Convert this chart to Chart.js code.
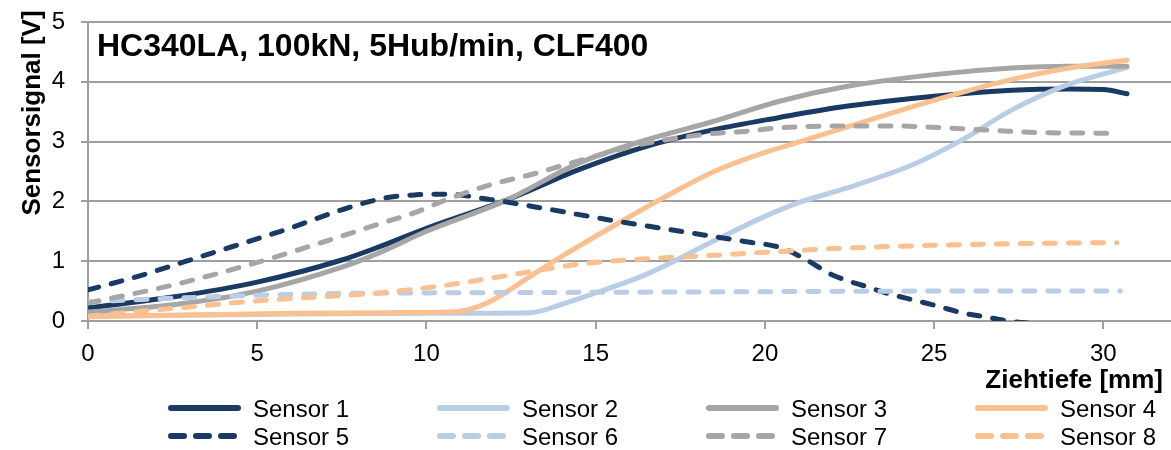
<!DOCTYPE html>
<html>
<head>
<meta charset="utf-8">
<script src="https://cdn.jsdelivr.net/npm/chart.js@4.4.1/dist/chart.umd.min.js"></script>
<style>
  html, body { margin: 0; padding: 0; background: #fff; overflow: hidden; }
  canvas { display: block; }
</style>
</head>
<body>
<canvas id="chart" width="1171" height="450"></canvas>
<script>
// Axis ticks
const depthTicks = [0, 5, 10, 15, 20, 25, 30];
const signalTicks = [0, 1, 2, 3, 4, 5];

// Series: [Ziehtiefe mm, Sensorsignal V]
const sensor1 = [[0,0.22],[2.5,0.4],[5,0.65],[7.5,1.02],[8.6,1.24],[10,1.55],[12.4,2.03],[14.5,2.53],[16.5,2.92],[18.5,3.2],[20.4,3.4],[22.4,3.59],[25,3.76],[27.3,3.86],[29,3.88],[30,3.87],[30.7,3.8]];
const sensor2 = [[0,0.08],[5,0.11],[10,0.13],[13.1,0.14],[14,0.28],[15,0.47],[16.5,0.78],[18.5,1.34],[20,1.75],[21,1.98],[22.4,2.22],[24.4,2.62],[25.8,3.02],[27.3,3.53],[28.8,3.92],[30.7,4.24]];
const sensor3 = [[0,0.15],[2.5,0.27],[5,0.5],[7.5,0.9],[8.6,1.14],[10,1.5],[12.4,2.03],[14.5,2.64],[16.5,3.03],[18.5,3.34],[20.4,3.67],[22.4,3.92],[25,4.12],[27.3,4.23],[29,4.26],[30.7,4.26]];
const sensor4 = [[0,0.07],[3,0.1],[6,0.13],[9,0.14],[10.7,0.15],[11.3,0.2],[12,0.36],[13,0.72],[14,1.08],[15.5,1.58],[17,2.06],[18.5,2.5],[20,2.82],[21,2.99],[22.4,3.24],[25,3.69],[27.3,4.04],[29.3,4.26],[30.7,4.36]];
const sensor5 = [[0,0.52],[1.5,0.75],[2.9,1.0],[4.3,1.25],[5.8,1.52],[7.5,1.86],[8.8,2.06],[9.7,2.11],[10.6,2.12],[11.9,2.03],[13.4,1.89],[15.4,1.69],[17.5,1.5],[19.4,1.33],[20.5,1.22],[21.2,1.03],[22,0.77],[23,0.575],[23.7,0.45],[24.4,0.35],[25.1,0.25],[25.8,0.14],[26.5,0.07],[27.2,0.0],[27.9,-0.04],[29,-0.08],[30.5,-0.12]];
const sensor6 = [[0,0.32],[2.5,0.38],[5,0.43],[7.5,0.46],[10,0.47],[15,0.48],[20,0.49],[25,0.5],[30.5,0.5]];
const sensor7 = [[0,0.3],[2.5,0.6],[5,0.98],[7.5,1.42],[8.8,1.66],[9.6,1.8],[10.6,2.03],[11.9,2.28],[13.1,2.45],[14.2,2.63],[15.2,2.79],[16.3,2.95],[18.2,3.12],[19.4,3.17],[20.4,3.23],[22.4,3.26],[23.9,3.26],[25.3,3.23],[26.7,3.19],[28.1,3.15],[30.4,3.14]];
const sensor8 = [[0,0.08],[2.3,0.2],[5.3,0.35],[8.6,0.47],[10.6,0.6],[12.6,0.78],[14.5,0.95],[16.5,1.04],[18.5,1.1],[21,1.18],[22.4,1.22],[25.3,1.27],[28.3,1.3],[30.4,1.31]];

const sensorNames = ['Sensor 1','Sensor 2','Sensor 3','Sensor 4','Sensor 5','Sensor 6','Sensor 7','Sensor 8'];
const sensorSeries = [sensor1, sensor2, sensor3, sensor4, sensor5, sensor6, sensor7, sensor8];

const chartTitle = 'HC340LA, 100kN, 5Hub/min, CLF400';
const xTitle = 'Ziehtiefe [mm]';
const yTitle = 'Sensorsignal [V]';

const NAVY = '#1b3a63', LIGHTBLUE = '#b9cde5', GRAY = '#a6a6a6', ORANGE = '#fac090';
const palette = [NAVY, LIGHTBLUE, GRAY, ORANGE];
const GRID = '#9f9f9f';
const FONT = "'Liberation Sans', Arial, Helvetica, sans-serif";

Chart.defaults.font.family = FONT;
Chart.defaults.color = '#000';

const datasets = sensorSeries.map((pts, i) => ({
  label: sensorNames[i],
  data: pts.map(([x, y]) => ({ x, y })),
  borderColor: palette[i % 4],
  backgroundColor: palette[i % 4],
  borderWidth: 5,
  borderDash: i >= 4 ? [11, 13] : [],
  borderCapStyle: 'round',
  borderJoinStyle: 'round',
  cubicInterpolationMode: 'monotone',
  pointRadius: 0,
  fill: false,
  order: sensorSeries.length - i
}));

// Title inside the plot, value labels, axis titles and a 4x2 legend
const annotations = {
  id: 'annotations',
  afterDraw(chart) {
    const ctx = chart.ctx;
    const area = chart.chartArea;
    const yScale = chart.scales.y;
    ctx.save();
    ctx.fillStyle = '#000';

    // value labels of the signal axis
    ctx.font = '24px ' + FONT;
    ctx.textAlign = 'right';
    ctx.textBaseline = 'middle';
    signalTicks.forEach(v => ctx.fillText(String(v), area.left - 23, yScale.getPixelForValue(v)));

    ctx.textBaseline = 'alphabetic';
    ctx.font = 'bold 32px ' + FONT;
    ctx.textAlign = 'left';
    ctx.fillText(chartTitle, area.left + 9, 56);

    ctx.font = 'bold 26px ' + FONT;
    ctx.textAlign = 'right';
    ctx.fillText(xTitle, 1163, 388);

    ctx.save();
    ctx.translate(40, 113);
    ctx.rotate(-Math.PI / 2);
    ctx.textAlign = 'center';
    ctx.fillText(yTitle, 0, 0);
    ctx.restore();

    ctx.font = '24px ' + FONT;
    ctx.textAlign = 'left';
    chart.data.datasets.forEach((ds, i) => {
      const col = i % 4, row = Math.floor(i / 4);
      const x0 = 168 + col * 269;
      const y = row === 0 ? 408 : 436;
      ctx.save();
      ctx.strokeStyle = ds.borderColor;
      ctx.lineWidth = 6;
      ctx.lineCap = 'round';
      ctx.setLineDash(ds.borderDash.length ? [13, 12] : []);
      ctx.beginPath();
      ctx.moveTo(x0 + 3, y);
      ctx.lineTo(x0 + 70, y);
      ctx.stroke();
      ctx.restore();
      ctx.fillText(ds.label, x0 + 85, y + 9);
    });
    ctx.restore();
  }
};

new Chart(document.getElementById('chart'), {
  type: 'line',
  data: { datasets },
  options: {
    responsive: false,
    animation: false,
    devicePixelRatio: 1,
    events: [],
    layout: { padding: { top: 22, right: 0, bottom: 0, left: 0 } },
    plugins: { legend: { display: false }, tooltip: { enabled: false }, title: { display: false } },
    scales: {
      x: {
        type: 'linear',
        min: 0,
        max: 32,
        afterFit(scale) { scale.height = 129; },
        afterBuildTicks(scale) { scale.ticks = depthTicks.map(v => ({ value: v })); },
        ticks: { padding: 11, font: { size: 24 }, color: '#000', maxRotation: 0, autoSkip: false },
        grid: { drawOnChartArea: false, drawTicks: true, tickLength: 8, color: GRID, lineWidth: 2 },
        border: { display: true, color: GRID, width: 2 }
      },
      y: {
        min: 0,
        max: 5,
        afterFit(scale) { scale.width = 88; },
        afterBuildTicks(scale) { scale.ticks = signalTicks.map(v => ({ value: v })); },
        ticks: { display: false },
        grid: { color: GRID, lineWidth: 2, tickLength: 7, drawTicks: true },
        border: { display: true, color: GRID, width: 2 }
      }
    }
  },
  plugins: [annotations]
});
</script>
</body>
</html>
